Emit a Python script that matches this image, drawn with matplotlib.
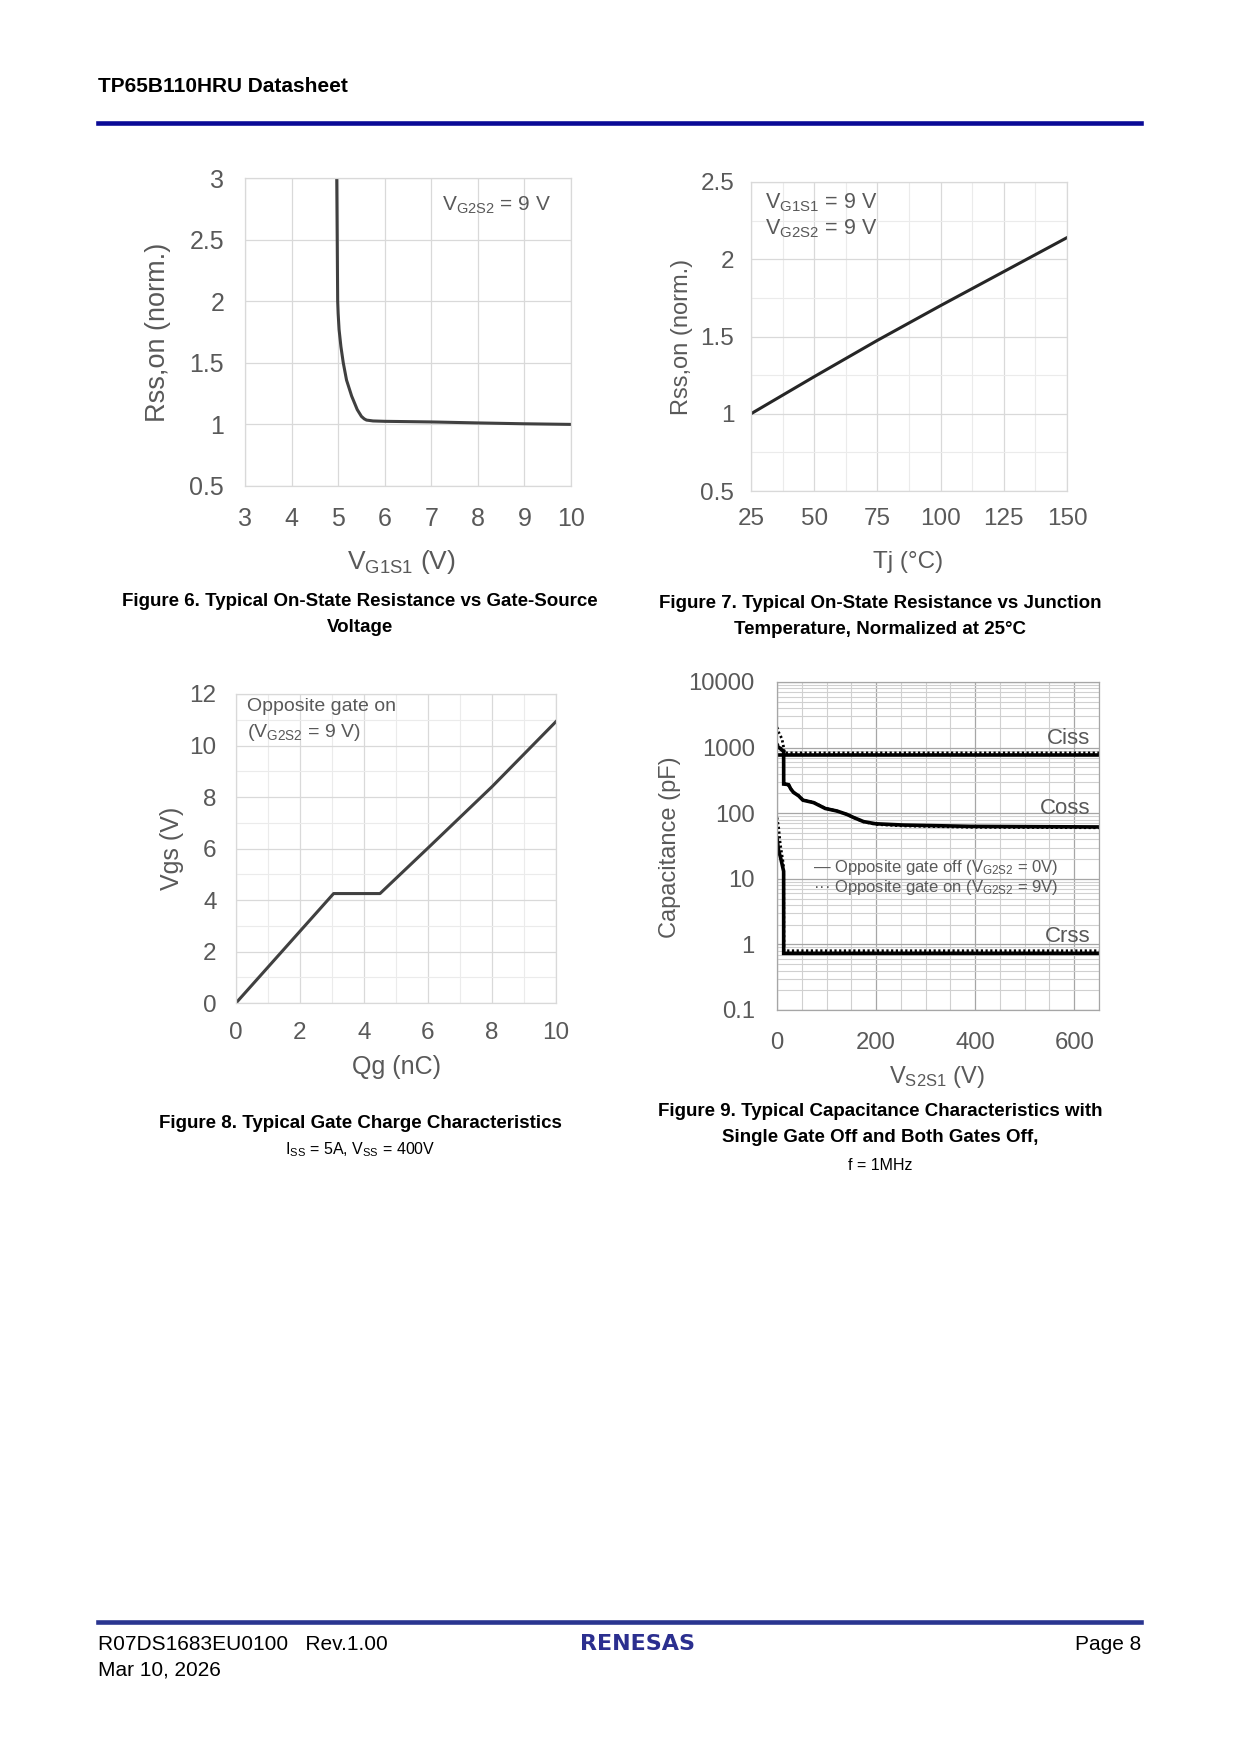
import numpy as np
import matplotlib
matplotlib.use("Agg")
from matplotlib import pyplot as plt
from matplotlib.ticker import MultipleLocator, FuncFormatter, LogLocator, NullFormatter
from matplotlib.lines import Line2D

plt.rcParams["font.family"] = ["Liberation Sans", "DejaVu Sans"]
plt.rcParams["mathtext.fontset"] = "custom"
plt.rcParams["mathtext.rm"] = "Liberation Sans"
plt.rcParams["mathtext.it"] = "Liberation Sans:italic"
plt.rcParams["mathtext.bf"] = "Liberation Sans:bold"

W, H = 1240, 1754
TXT = "#595959"
GRID = "#d9d9d9"
GRID_MINOR = "#ebebeb"
CURVE = "#404040"

# Figure 6: Rss,on vs VG1S1
vg1s1 = [4.97, 4.98, 4.99, 5.0, 5.02, 5.06, 5.11, 5.18, 5.29, 5.41, 5.5, 5.56, 5.61, 5.75, 6.0, 7.0, 8.0, 9.0, 10.0]
rss_vs_vg = [3.0, 2.5, 2.0, 1.9, 1.77, 1.63, 1.5, 1.36, 1.23, 1.12, 1.065, 1.045, 1.035, 1.028, 1.025, 1.02, 1.012, 1.005, 1.0]

# Figure 7: Rss,on vs Tj
tj = [25, 50, 75, 100, 125, 150]
rss_vs_tj = [1.0, 1.24, 1.475, 1.70, 1.92, 2.14]

# Figure 8: gate charge
qg = [0, 3.05, 4.5, 6.0, 8.0, 10.0]
vgs_qg = [0, 4.25, 4.25, 6.02, 8.4, 10.93]

# Figure 9: capacitances, opposite gate off (solid)
ciss_off_v = [0, 650]
ciss_off = [760, 760]
coss_off_v = [0, 4, 9, 13.4, 13.5, 20, 23.5, 28, 33.5, 43.6, 52.3, 73.9, 87.3, 97.4, 121, 141,
              154.6, 174.6, 199, 255, 390, 650]
coss_off = [1074, 1000, 930, 880, 278, 275, 271, 233, 207, 184, 158, 145, 129, 118, 108, 96,
            86, 74.5, 69, 66, 63, 61.7]
crss_off_v = [0, 3.3, 6.6, 10, 13.4, 13.5, 650]
crss_off = [42, 26.5, 22, 17, 13, 0.73, 0.73]

# opposite gate on (dotted)
ciss_on_v = [0, 3.3, 10, 13.4, 14.8, 650]
ciss_on = [2046, 1714, 1358, 1012, 830, 830]
coss_on_v = [0, 4, 9, 13.4, 13.5, 20, 23.5, 28, 33.5, 43.6, 52.3, 73.9, 87.3, 97.4, 121, 141,
             154.6, 174.6, 199, 255, 390, 650]
coss_on = [1150, 1050, 960, 900, 285, 280, 272, 235, 208, 185, 160, 146, 130, 119, 108, 96,
           86, 74, 67.5, 64, 61, 60]
crss_on_v = [0, 3.3, 6.6, 11.9, 13.4, 14, 650]
crss_on = [86, 60, 33.5, 18.6, 14.7, 0.8, 0.8]


def rect(l, t, r, b):
    return [l / W, 1 - b / H, (r - l) / W, (b - t) / H]


def fx(x):
    return x / W


def fy(y):
    return 1 - y / H


def style_axes(ax, spine_color=GRID, fs=16, pad=14):
    for s in ax.spines.values():
        s.set_color(spine_color)
        s.set_linewidth(0.9)
    ax.tick_params(which="both", length=0, colors=TXT, labelsize=fs, pad=pad)
    ax.set_axisbelow(True)


def num_fmt(v, pos):
    return f"{v:g}"


def fig6(fig):
    ax = fig.add_axes(rect(245, 178, 571, 486))
    ax.plot(vg1s1, rss_vs_vg, color=CURVE, lw=2.2, solid_capstyle="butt")
    ax.set_xlim(3, 10)
    ax.set_ylim(0.5, 3)
    ax.xaxis.set_major_locator(MultipleLocator(1))
    ax.yaxis.set_major_locator(MultipleLocator(0.5))
    ax.yaxis.set_major_formatter(FuncFormatter(num_fmt))
    ax.grid(True, color=GRID, lw=0.9)
    style_axes(ax, fs=18, pad=15)
    ax.set_xlabel(r"V$_{\mathrm{G1S1}}$ (V)", fontsize=19, color=TXT)
    ax.set_ylabel("Rss,on (norm.)", fontsize=19.5, color=TXT)
    ax.xaxis.set_label_coords(0.48, -0.247)
    ax.yaxis.set_label_coords(-0.267, 0.5)
    ax.xaxis.label.set_va("center")
    ax.yaxis.label.set_va("center")
    ax.text(0.604, 0.912, r"V$_{\mathrm{G2S2}}$ = 9 V", transform=ax.transAxes,
            fontsize=15, color=TXT, va="center", ha="left")


def fig7(fig):
    ax = fig.add_axes(rect(751, 182, 1067, 491))
    ax.plot(tj, rss_vs_tj, color="#262626", lw=2.2)
    ax.set_xlim(25, 150)
    ax.set_ylim(0.5, 2.5)
    ax.xaxis.set_major_locator(MultipleLocator(25))
    ax.xaxis.set_minor_locator(MultipleLocator(12.5))
    ax.yaxis.set_major_locator(MultipleLocator(0.5))
    ax.yaxis.set_minor_locator(MultipleLocator(0.25))
    ax.yaxis.set_major_formatter(FuncFormatter(num_fmt))
    ax.grid(True, which="major", color=GRID, lw=0.9)
    ax.grid(True, which="minor", color=GRID_MINOR, lw=0.8)
    style_axes(ax, fs=17.5, pad=12)
    ax.set_xlabel("Tj (°C)", fontsize=17.5, color=TXT)
    ax.set_ylabel("Rss,on (norm.)", fontsize=17, color=TXT)
    ax.xaxis.set_label_coords(0.497, -0.23)
    ax.yaxis.set_label_coords(-0.218, 0.498)
    ax.xaxis.label.set_va("center")
    ax.yaxis.label.set_va("center")
    ax.text(0.044, 0.932, r"V$_{\mathrm{G1S1}}$ = 9 V", transform=ax.transAxes,
            fontsize=15.5, color=TXT, va="center", ha="left")
    ax.text(0.044, 0.848, r"V$_{\mathrm{G2S2}}$ = 9 V", transform=ax.transAxes,
            fontsize=15.5, color=TXT, va="center", ha="left")


def fig8(fig):
    ax = fig.add_axes(rect(236, 694, 556, 1003))
    ax.plot(qg, vgs_qg, color=CURVE, lw=2.2)
    ax.set_xlim(0, 10)
    ax.set_ylim(0, 12)
    ax.xaxis.set_major_locator(MultipleLocator(2))
    ax.xaxis.set_minor_locator(MultipleLocator(1))
    ax.yaxis.set_major_locator(MultipleLocator(2))
    ax.yaxis.set_minor_locator(MultipleLocator(1))
    ax.grid(True, which="major", color=GRID, lw=0.9)
    ax.grid(True, which="minor", color=GRID_MINOR, lw=0.8)
    style_axes(ax, fs=17.5, pad=14)
    ax.set_xlabel("Qg (nC)", fontsize=18, color=TXT)
    ax.set_ylabel("Vgs (V)", fontsize=18, color=TXT)
    ax.xaxis.set_label_coords(0.5, -0.207)
    ax.yaxis.set_label_coords(-0.2, 0.5)
    ax.xaxis.label.set_va("center")
    ax.yaxis.label.set_va("center")
    ax.text(0.034, 0.958, "Opposite gate on", transform=ax.transAxes,
            fontsize=14, color=TXT, va="center", ha="left")
    ax.text(0.034, 0.877, r"(V$_{\mathrm{G2S2}}$ = 9 V)", transform=ax.transAxes,
            fontsize=14, color=TXT, va="center", ha="left")


def fig9(fig):
    ax = fig.add_axes(rect(777, 682, 1099, 1010))
    solid = dict(color="black", lw=2.6, solid_joinstyle="miter")
    dotted = dict(color="black", lw=2.0, linestyle=(0, (0.8, 0.9)))
    ax.plot(ciss_on_v, ciss_on, **dotted)
    ax.plot(coss_on_v, coss_on, **dotted)
    ax.plot(crss_on_v, crss_on, **dotted)
    ax.plot(ciss_off_v, ciss_off, **solid)
    ax.plot(coss_off_v, coss_off, **solid)
    ax.plot(crss_off_v, crss_off, **solid)
    ax.set_yscale("log")
    ax.set_xlim(0, 650)
    ax.set_ylim(0.1, 10000)
    ax.xaxis.set_major_locator(MultipleLocator(200))
    ax.xaxis.set_minor_locator(MultipleLocator(50))
    ax.yaxis.set_major_locator(LogLocator(base=10, numticks=10))
    ax.yaxis.set_minor_locator(LogLocator(base=10, subs=np.arange(2, 10), numticks=20))
    ax.yaxis.set_major_formatter(FuncFormatter(num_fmt))
    ax.yaxis.set_minor_formatter(NullFormatter())
    ax.grid(True, which="major", color="#a6a6a6", lw=0.9)
    ax.grid(True, which="minor", color="#d0d0d0", lw=0.8)
    style_axes(ax, spine_color="#a6a6a6", fs=17.2, pad=16)
    ax.set_xlabel(r"V$_{\mathrm{S2S1}}$ (V)", fontsize=17, color=TXT)
    ax.set_ylabel("Capacitance (pF)", fontsize=17, color=TXT)
    ax.xaxis.set_label_coords(0.497, -0.204)
    ax.yaxis.set_label_coords(-0.332, 0.497)
    ax.xaxis.label.set_va("center")
    ax.yaxis.label.set_va("center")
    for name, yv in (("Ciss", 1360), ("Coss", 119), ("Crss", 1.32)):
        ax.text(633, yv, name, fontsize=16, color=TXT, ha="right", va="center")
    ax.text(0.113, 0.435, r"— Opposite gate off (V$_{\mathrm{G2S2}}$ = 0V)",
            transform=ax.transAxes, fontsize=12, color=TXT, va="center", ha="left")
    ax.text(0.113, 0.373, r"··· Opposite gate on (V$_{\mathrm{G2S2}}$ = 9V)",
            transform=ax.transAxes, fontsize=12, color=TXT, va="center", ha="left")


def page(fig):
    # header
    fig.text(fx(98), fy(86.5), "TP65B110HRU Datasheet", fontsize=15, fontweight="bold",
             ha="left", va="center", color="black")
    fig.add_artist(Line2D([fx(98), fx(1141)], [fy(122.5), fy(122.5)], lw=3.3, color="#0a0a96"))
    # captions
    cap = dict(fontsize=13.5, fontweight="bold", ha="center", va="center", color="black")
    fig.text(fx(360), fy(601), "Figure 6. Typical On-State Resistance vs Gate-Source", **cap)
    fig.text(fx(360), fy(628), "Voltage", **cap)
    fig.text(fx(880), fy(603), "Figure 7. Typical On-State Resistance vs Junction", **cap)
    fig.text(fx(880), fy(630), "Temperature, Normalized at 25°C", **cap)
    fig.text(fx(360), fy(1123), "Figure 8. Typical Gate Charge Characteristics", **cap)
    fig.text(fx(360), fy(1150), r"I$_{\mathrm{SS}}$ = 5A, V$_{\mathrm{SS}}$ = 400V",
             fontsize=11.5, ha="center", va="center", color="black")
    fig.text(fx(880), fy(1111), "Figure 9. Typical Capacitance Characteristics with", **cap)
    fig.text(fx(880), fy(1138), "Single Gate Off and Both Gates Off,", **cap)
    fig.text(fx(880), fy(1165), "f = 1MHz", fontsize=11.5, ha="center", va="center", color="black")
    # footer
    fig.add_artist(Line2D([fx(98), fx(1141)], [fy(1621.5), fy(1621.5)], lw=3.3, color="#2a3590"))
    fig.text(fx(98), fy(1644), "R07DS1683EU0100   Rev.1.00", fontsize=15, ha="left",
             va="center", color="black")
    fig.text(fx(98), fy(1670), "Mar 10, 2026", fontsize=15, ha="left", va="center", color="black")
    fig.text(fx(1141), fy(1644), "Page 8", fontsize=15, ha="right", va="center", color="black")
    fig.text(fx(637), fy(1644), "RENESAS", fontsize=16, fontweight="bold", family="DejaVu Sans",
             ha="center", va="center", color="#2b2f8f")


def main():
    fig = plt.figure(figsize=(W / 100, H / 100), dpi=100)
    fig.patch.set_facecolor("white")
    fig6(fig)
    fig7(fig)
    fig8(fig)
    fig9(fig)
    page(fig)
    fig.savefig("out.png", dpi=100)


if __name__ == "__main__":
    main()
